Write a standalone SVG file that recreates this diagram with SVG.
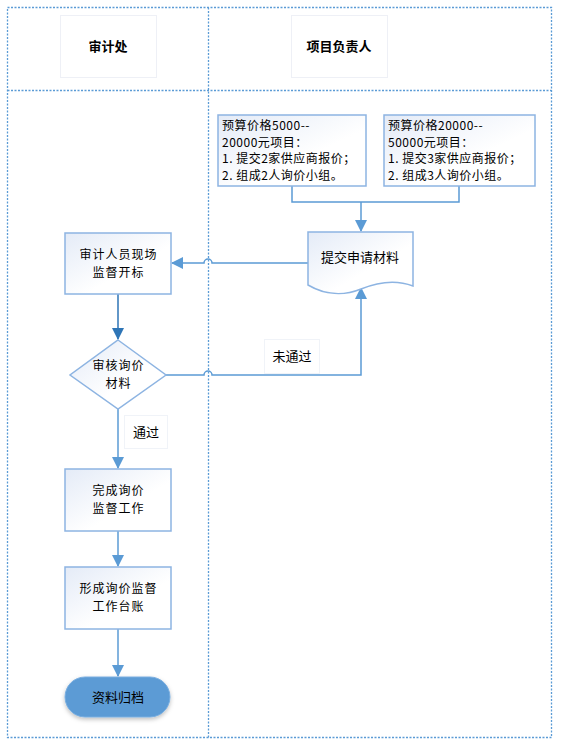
<svg xmlns="http://www.w3.org/2000/svg" width="569" height="747" viewBox="0 0 569 747">
<defs>
<linearGradient id="g" x1="0" y1="0" x2="1" y2="1">
<stop offset="0" stop-color="#e4ebf7"/>
<stop offset="0.6" stop-color="#ffffff"/>
</linearGradient>
<marker id="a" markerWidth="12" markerHeight="12" refX="11" refY="6" orient="auto" markerUnits="userSpaceOnUse">
<path d="M0,0 L12,6 L0,12 Z" fill="#5b9bd5"/>
</marker>
<marker id="ad" markerWidth="12" markerHeight="12" refX="11" refY="6" orient="auto" markerUnits="userSpaceOnUse">
<path d="M0,0 L12,6 L0,12 Z" fill="#2e75b6"/>
</marker>
<filter id="sh" x="-20%" y="-20%" width="140%" height="150%">
<feDropShadow dx="0" dy="2" stdDeviation="2" flood-color="#000" flood-opacity="0.25"/>
</filter>
</defs>
<style>
.frame{fill:none;stroke:#5b9bd5;stroke-width:1.3;stroke-dasharray:2 1.5}
.hdr{fill:#fff;stroke:#eef0f6;stroke-width:1}
.box{fill:url(#g);stroke:#8db4e2;stroke-width:1.5}
.lbl{fill:#fff;stroke:#f0f3f8;stroke-width:1}
.t{font-family:"Noto Sans CJK SC","Liberation Sans",sans-serif;font-size:13px;fill:#000;text-anchor:middle}
.t2{font-size:12px;letter-spacing:1px}
.tb{font-weight:bold}
.tl{font-family:"Noto Sans CJK SC","Liberation Sans",sans-serif;font-size:12px;letter-spacing:0.5px;fill:#000}
.c{fill:none;stroke:#5b9bd5;stroke-width:1.5}
</style>
<rect width="569" height="747" fill="#fff"/>
<g id="lanes">
<rect class="frame" x="7.5" y="7.5" width="544" height="730"/>
<line class="frame" x1="208.5" y1="7.5" x2="208.5" y2="737.5"/>
<line class="frame" x1="7.5" y1="90.5" x2="551.5" y2="90.5"/>
</g>
<g id="h1"><rect class="hdr" x="60.5" y="15.5" width="96" height="62"/><text class="t tb" x="108" y="51">审计处</text></g>
<g id="h2"><rect class="hdr" x="291.5" y="15.5" width="96" height="62"/><text class="t tb" x="339" y="51">项目负责人</text></g>
<g id="connectors">
<path class="c" d="M292,186 V202 H459 V186"/>
<path class="c" d="M361,202 V231" marker-end="url(#a)"/>
<path class="c" d="M308,263 H212 A4,4 0 0 0 204,263 H172" marker-end="url(#a)"/>
<path class="c" d="M118,294 V339" style="stroke:#2e75b6" marker-end="url(#ad)"/>
<path class="c" d="M166,375 H204 A4,4 0 0 1 212,375 H361 V288" marker-end="url(#a)"/>
<path class="c" d="M118,409 V468" marker-end="url(#a)"/>
<path class="c" d="M118,531 V566" marker-end="url(#a)"/>
<path class="c" d="M118,629 V676" marker-end="url(#a)"/>
</g>
<g id="b1"><rect class="box" x="218" y="115" width="148" height="71"/>
<text class="tl" x="222" y="130">预算价格5000--</text>
<text class="tl" x="222" y="146.5">20000元项目：</text>
<text class="tl" x="222" y="163">1. 提交2家供应商报价；</text>
<text class="tl" x="222" y="179.5">2. 组成2人询价小组。</text></g>
<g id="b2"><rect class="box" x="384" y="115" width="151" height="71"/>
<text class="tl" x="388" y="130">预算价格20000--</text>
<text class="tl" x="388" y="146.5">50000元项目：</text>
<text class="tl" x="388" y="163">1. 提交3家供应商报价；</text>
<text class="tl" x="388" y="179.5">2. 组成3人询价小组。</text></g>
<g id="doc"><path class="box" d="M308,232 H413 V286 C395,279 378,282 361,289 C344,296 325,295 308,285 Z"/>
<text class="t" x="360" y="262">提交申请材料</text></g>
<g id="n1"><rect class="box" x="65" y="233" width="106" height="61"/>
<text class="t t2" x="118.5" y="259">审计人员现场</text><text class="t t2" x="118.5" y="277">监督开标</text></g>
<g id="n2"><path class="box" d="M118,340 L166,375 L118,409 L70,375 Z"/>
<text class="t t2" x="118.5" y="370">审核询价</text><text class="t t2" x="118.5" y="388">材料</text></g>
<g id="l1"><rect class="lbl" x="264.5" y="339.5" width="55" height="34"/><text class="t" x="292" y="361">未通过</text></g>
<g id="l2"><rect class="lbl" x="124.5" y="415.5" width="43" height="33"/><text class="t" x="146" y="437">通过</text></g>
<g id="n3"><rect class="box" x="65" y="469" width="106" height="62"/>
<text class="t t2" x="118.5" y="495">完成询价</text><text class="t t2" x="118.5" y="513">监督工作</text></g>
<g id="n4"><rect class="box" x="65" y="567" width="106" height="62"/>
<text class="t t2" x="118.5" y="593">形成询价监督</text><text class="t t2" x="118.5" y="611">工作台账</text></g>
<g id="n5"><rect x="65" y="677" width="105" height="40" rx="20" fill="#5b9bd5" stroke="#7aaee0" stroke-width="1" filter="url(#sh)"/>
<text class="t" x="118" y="702">资料归档</text></g>
</svg>
